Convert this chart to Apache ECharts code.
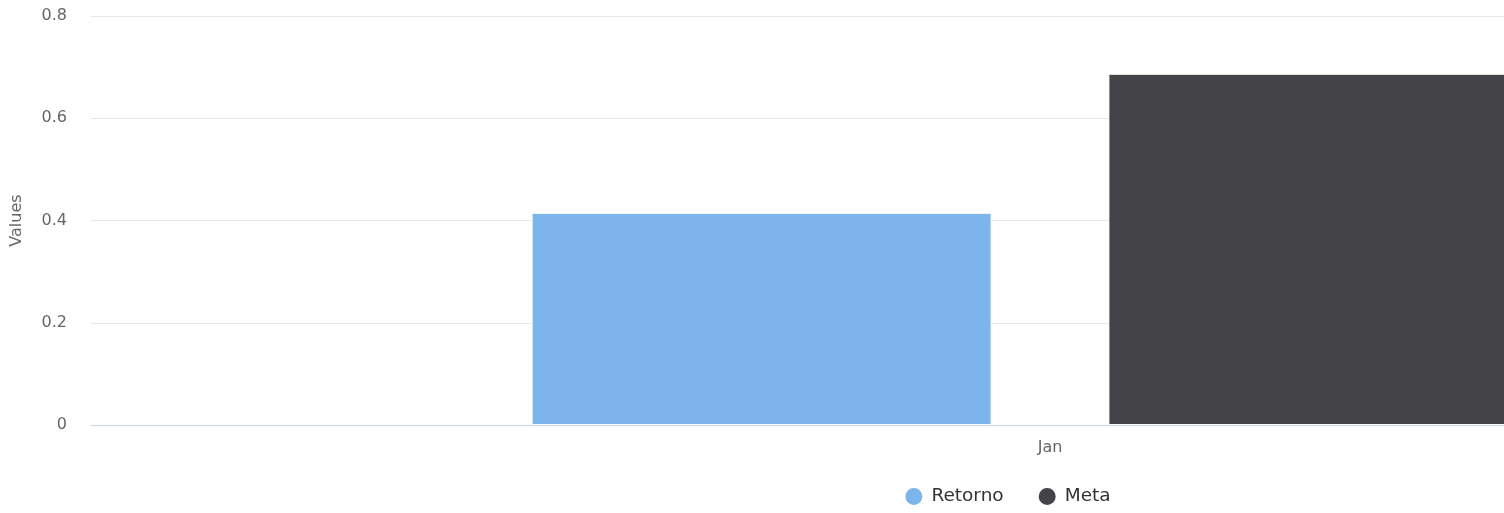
<!DOCTYPE html>
<html>
<head>
<meta charset="utf-8">
<script src="https://cdn.jsdelivr.net/npm/echarts@6/dist/echarts.min.js"></script>
<style>
html,body{margin:0;padding:0;overflow:hidden;background:#fff;width:1504px;height:513px;}
#c{width:2014px;height:513px;}
</style>
</head>
<body>
<div id="c"></div>
<script>
const categories = ['Jan'];
const retorno = [0.415];
const meta = [0.687];
const yTicks = { min: 0, max: 0.8, interval: 0.2 };

const chart = echarts.init(document.getElementById('c'), null, {renderer: 'canvas'});
const font = '"DejaVu Sans", "Lucida Grande", sans-serif';
chart.setOption({
  animation: false,
  backgroundColor: '#fff',
  textStyle: { fontFamily: font },
  grid: { left: 91, right: 5, top: 16, bottom: 88, containLabel: false, outerBoundsMode: 'none' },
  legend: {
    data: ['Retorno', 'Meta'],
    left: 'center',
    top: 481,
    icon: 'circle',
    itemWidth: 19,
    itemHeight: 19,
    itemGap: 33,
    textStyle: { fontSize: 18.5, color: '#333', fontFamily: font, padding: [0, 0, 0, 3] }
  },
  xAxis: {
    type: 'category',
    data: categories,
    axisLine: { lineStyle: { color: '#ccd6eb', width: 1 } },
    axisTick: { show: false },
    axisLabel: { fontSize: 16, color: '#666', margin: 15, fontFamily: font },
    splitLine: { show: false }
  },
  yAxis: {
    type: 'value',
    min: yTicks.min, max: yTicks.max, interval: yTicks.interval,
    name: 'Values',
    nameLocation: 'middle',
    nameGap: 66,
    nameRotate: 90,
    nameTextStyle: { fontSize: 16, color: '#666', fontFamily: font },
    axisLine: { show: false },
    axisTick: { show: false },
    axisLabel: { fontSize: 16, color: '#666', margin: 24, fontFamily: font, padding: [3, 0, 0, 0] },
    splitLine: { lineStyle: { color: '#e6e6e6', width: 1 } }
  },
  series: [
    {
      name: 'Retorno', type: 'bar', data: retorno,
      barWidth: 460, barGap: '25.4%',
      itemStyle: { color: '#7cb5ec', borderColor: '#fff', borderWidth: 1 }
    },
    {
      name: 'Meta', type: 'bar', data: meta,
      barWidth: 460,
      itemStyle: { color: '#434348', borderColor: '#fff', borderWidth: 1 }
    }
  ]
});
</script>
</body>
</html>
